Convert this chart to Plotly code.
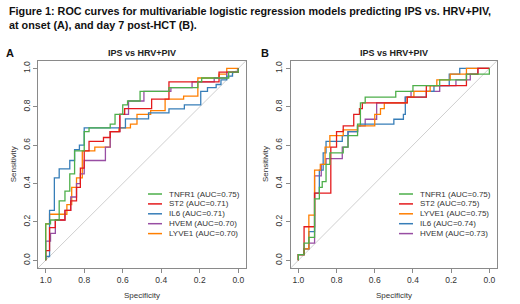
import plotly.graph_objects as go

FONT = "Liberation Sans, Arial, sans-serif"

# ---------------- data ----------------
caption_lines = [
    "Figure 1: ROC curves for multivariable logistic regression models predicting IPS vs. HRV+PIV,",
    "at onset (A), and day 7 post-HCT (B).",
]
panel_titles = ["IPS vs HRV+PIV", "IPS vs HRV+PIV"]
panel_letters = ["A", "B"]
x_tick_vals = [1.0, 0.8, 0.6, 0.4, 0.2, 0.0]
x_tick_text = ["1.0", "0.8", "0.6", "0.4", "0.2", "0.0"]
y_tick_vals = [0.0, 0.2, 0.4, 0.6, 0.8, 1.0]
y_tick_text = ["0.0", "0.2", "0.4", "0.6", "0.8", "1.0"]

# Panel A (at onset)
a_names = ["TNFR1", "ST2", "IL6", "HVEM", "LYVE1"]
a_auc = [0.75, 0.71, 0.71, 0.70, 0.70]
a_tnfr1_spec = [1.00, 1.00, 0.975, 0.93, 0.90, 0.875, 0.85, 0.80, 0.775, 0.665, 0.64, 0.60, 0.575, 0.51, 0.36, 0.21, 0.19, 0.05, 0.00]
a_tnfr1_sens = [0.00, 0.19, 0.21, 0.31, 0.36, 0.45, 0.57, 0.67, 0.69, 0.71, 0.76, 0.81, 0.83, 0.88, 0.90, 0.93, 0.95, 0.98, 1.00]
a_st2_spec = [1.00, 1.00, 0.98, 0.95, 0.90, 0.87, 0.84, 0.82, 0.80, 0.775, 0.70, 0.665, 0.615, 0.59, 0.45, 0.36, 0.10, 0.00]
a_st2_sens = [0.00, 0.05, 0.17, 0.21, 0.26, 0.31, 0.38, 0.48, 0.57, 0.62, 0.64, 0.67, 0.76, 0.79, 0.84, 0.93, 0.98, 1.00]
a_il6_spec = [1.00, 1.00, 0.98, 0.955, 0.93, 0.875, 0.85, 0.825, 0.80, 0.586, 0.466, 0.36, 0.28, 0.195, 0.16, 0.115, 0.09, 0.06, 0.03, 0.00]
a_il6_sens = [0.00, 0.02, 0.26, 0.43, 0.476, 0.52, 0.576, 0.60, 0.69, 0.737, 0.768, 0.789, 0.81, 0.88, 0.90, 0.916, 0.94, 0.96, 0.98, 1.00]
a_hvem_spec = [1.00, 1.00, 0.975, 0.95, 0.90, 0.87, 0.84, 0.82, 0.80, 0.69, 0.665, 0.615, 0.57, 0.49, 0.35, 0.24, 0.125, 0.06, 0.00]
a_hvem_sens = [0.00, 0.10, 0.14, 0.21, 0.26, 0.33, 0.40, 0.45, 0.52, 0.59, 0.67, 0.76, 0.83, 0.88, 0.90, 0.93, 0.95, 0.98, 1.00]
a_lyve1_spec = [1.00, 1.00, 0.98, 0.89, 0.865, 0.84, 0.81, 0.745, 0.665, 0.62, 0.56, 0.526, 0.455, 0.38, 0.284, 0.21, 0.10, 0.06, 0.00]
a_lyve1_sens = [0.00, 0.19, 0.24, 0.29, 0.38, 0.43, 0.57, 0.59, 0.67, 0.69, 0.71, 0.76, 0.78, 0.84, 0.855, 0.95, 0.97, 1.00, 1.00]

# Panel B (day 7 post-HCT)
b_names = ["TNFR1", "ST2", "LYVE1", "IL6", "HVEM"]
b_auc = [0.75, 0.75, 0.75, 0.74, 0.73]
b_tnfr1_spec = [1.00, 1.00, 0.97, 0.945, 0.915, 0.89, 0.875, 0.855, 0.835, 0.765, 0.74, 0.69, 0.675, 0.65, 0.49, 0.40, 0.26, 0.12, 0.00]
b_tnfr1_sens = [0.00, 0.03, 0.09, 0.12, 0.32, 0.38, 0.41, 0.50, 0.56, 0.59, 0.65, 0.71, 0.82, 0.85, 0.88, 0.91, 0.94, 0.97, 1.00]
b_st2_spec = [1.00, 1.00, 0.97, 0.915, 0.83, 0.80, 0.765, 0.71, 0.68, 0.665, 0.43, 0.33, 0.12, 0.06, 0.00]
b_st2_sens = [0.00, 0.03, 0.175, 0.35, 0.59, 0.67, 0.70, 0.76, 0.79, 0.82, 0.85, 0.91, 0.97, 1.00, 1.00]
b_lyve1_spec = [1.00, 1.00, 0.97, 0.945, 0.915, 0.885, 0.86, 0.835, 0.765, 0.69, 0.60, 0.57, 0.55, 0.43, 0.395, 0.31, 0.275, 0.205, 0.12, 0.00]
b_lyve1_sens = [0.00, 0.03, 0.06, 0.235, 0.47, 0.50, 0.59, 0.65, 0.68, 0.70, 0.76, 0.79, 0.82, 0.85, 0.88, 0.91, 0.94, 0.97, 1.00, 1.00]
b_il6_spec = [1.00, 1.00, 0.97, 0.945, 0.915, 0.89, 0.87, 0.855, 0.77, 0.74, 0.69, 0.675, 0.50, 0.45, 0.44, 0.33, 0.29, 0.21, 0.155, 0.00]
b_il6_sens = [0.00, 0.03, 0.06, 0.15, 0.35, 0.47, 0.56, 0.62, 0.65, 0.67, 0.70, 0.71, 0.735, 0.76, 0.85, 0.88, 0.91, 0.97, 1.00, 1.00]
b_hvem_spec = [1.00, 1.00, 0.97, 0.945, 0.915, 0.88, 0.855, 0.77, 0.74, 0.69, 0.65, 0.59, 0.44, 0.41, 0.26, 0.175, 0.10, 0.06, 0.00]
b_hvem_sens = [0.00, 0.03, 0.06, 0.09, 0.44, 0.50, 0.53, 0.59, 0.67, 0.70, 0.735, 0.82, 0.85, 0.88, 0.91, 0.94, 0.97, 1.00, 1.00]

# ---------------- styles ----------------
COLORS = {
    "TNFR1": "#4DAF4A",
    "ST2": "#E41A1C",
    "IL6": "#377EB8",
    "HVEM": "#984EA3",
    "LYVE1": "#FF7F00",
}
W, H = 520, 304

panels = [
    {
        "names": a_names, "auc": a_auc,
        "curves": {
            "TNFR1": (a_tnfr1_spec, a_tnfr1_sens),
            "ST2": (a_st2_spec, a_st2_sens),
            "IL6": (a_il6_spec, a_il6_sens),
            "HVEM": (a_hvem_spec, a_hvem_sens),
            "LYVE1": (a_lyve1_spec, a_lyve1_sens),
        },
        "xdom": (38 / W, 246 / W),
        "leg_x": 148, "leg_y": 194,
        "letter_x": 10, "title_x": 142,
    },
    {
        "names": b_names, "auc": b_auc,
        "curves": {
            "TNFR1": (b_tnfr1_spec, b_tnfr1_sens),
            "ST2": (b_st2_spec, b_st2_sens),
            "LYVE1": (b_lyve1_spec, b_lyve1_sens),
            "IL6": (b_il6_spec, b_il6_sens),
            "HVEM": (b_hvem_spec, b_hvem_sens),
        },
        "xdom": (290.7 / W, 497 / W),
        "leg_x": 399, "leg_y": 194,
        "letter_x": 265, "title_x": 394,
    },
]

ydom = (1 - 268 / H, 1 - 60.7 / H)

fig = go.Figure()
annotations = []
shapes = []

for i, p in enumerate(panels):
    ax = "" if i == 0 else str(i + 1)
    xref, yref = "x" + ax, "y" + ax
    # chance diagonal (abline)
    fig.add_trace(go.Scatter(
        x=[1.1, -0.1], y=[-0.1, 1.1], mode="lines",
        line=dict(color="#CFCFCF", width=1), xaxis=xref, yaxis=yref,
        showlegend=False, hoverinfo="skip",
    ))
    for name in reversed(p["names"]):
        sx, sy = p["curves"][name]
        fig.add_trace(go.Scatter(
            x=sx, y=sy, mode="lines", line_shape="hv",
            line=dict(color=COLORS[name], width=1.3),
            xaxis=xref, yaxis=yref, showlegend=False, name=name,
        ))
    layout_x = "xaxis" + ax
    layout_y = "yaxis" + ax
    common = dict(
        showgrid=False, zeroline=False, showline=True, mirror=True,
        linecolor="#8A8A8A", linewidth=1, ticks="outside", ticklen=4,
        tickcolor="#8A8A8A", tickfont=dict(family=FONT, size=8.5, color="#333333"),
    )
    fig.update_layout({
        layout_x: dict(domain=list(p["xdom"]), range=[1.04, -0.04], anchor=yref,
                       tickvals=x_tick_vals, ticktext=x_tick_text, **common),
        layout_y: dict(domain=list(ydom), range=[-0.04, 1.04], anchor=xref,
                       tickvals=y_tick_vals, ticktext=y_tick_text, tickangle=-90, **common),
    })
    # panel letter and title
    annotations.append(dict(text="<b>%s</b>" % panel_letters[i], x=p["letter_x"] / W, y=1 - 53 / H,
                            xref="paper", yref="paper", showarrow=False, xanchor="center", yanchor="middle",
                            font=dict(family=FONT, size=11, color="#111111")))
    annotations.append(dict(text="<b>%s</b>" % panel_titles[i], x=p["title_x"] / W, y=1 - 53 / H,
                            xref="paper", yref="paper", showarrow=False, xanchor="center", yanchor="middle",
                            font=dict(family=FONT, size=9, color="#222222")))
    # axis titles
    cx = (p["xdom"][0] + p["xdom"][1]) / 2
    annotations.append(dict(text="Specificity", x=cx, y=1 - 295 / H, xref="paper", yref="paper",
                            showarrow=False, xanchor="center", yanchor="middle",
                            font=dict(family=FONT, size=8, color="#333333")))
    annotations.append(dict(text="Sensitivity", x=(p["xdom"][0] * W - 25) / W, y=(ydom[0] + ydom[1]) / 2,
                            xref="paper", yref="paper", showarrow=False, textangle=-90,
                            xanchor="center", yanchor="middle",
                            font=dict(family=FONT, size=8, color="#333333")))
    # legend (drawn manually to match compact R legend)
    for j, (name, auc) in enumerate(zip(p["names"], p["auc"])):
        yy = 1 - (p["leg_y"] + j * 9.9) / H
        shapes.append(dict(type="line", xref="paper", yref="paper",
                           x0=p["leg_x"] / W, x1=(p["leg_x"] + 14) / W, y0=yy, y1=yy,
                           line=dict(color=COLORS[name], width=1.5)))
        annotations.append(dict(text="%s (AUC=%.2f)" % (name, auc), x=(p["leg_x"] + 19) / W, y=yy,
                                xref="paper", yref="paper", showarrow=False,
                                xanchor="left", yanchor="middle",
                                font=dict(family=FONT, size=8, color="#333333")))

# caption
for k, line in enumerate(caption_lines):
    annotations.append(dict(text="<b>%s</b>" % line, x=7 / W, y=1 - (11.5 + k * 13.3) / H,
                            xref="paper", yref="paper", showarrow=False,
                            xanchor="left", yanchor="middle",
                            font=dict(family=FONT, size=10.8, color="#111111")))

fig.update_layout(
    width=W, height=H, autosize=False,
    margin=dict(l=0, r=0, t=0, b=0),
    paper_bgcolor="white", plot_bgcolor="white",
    showlegend=False,
    annotations=annotations, shapes=shapes,
)

fig.write_html(
    "out.html",
    config={"displayModeBar": False},
    post_script="document.body.style.margin='0px';document.body.style.padding='0px';",
)
